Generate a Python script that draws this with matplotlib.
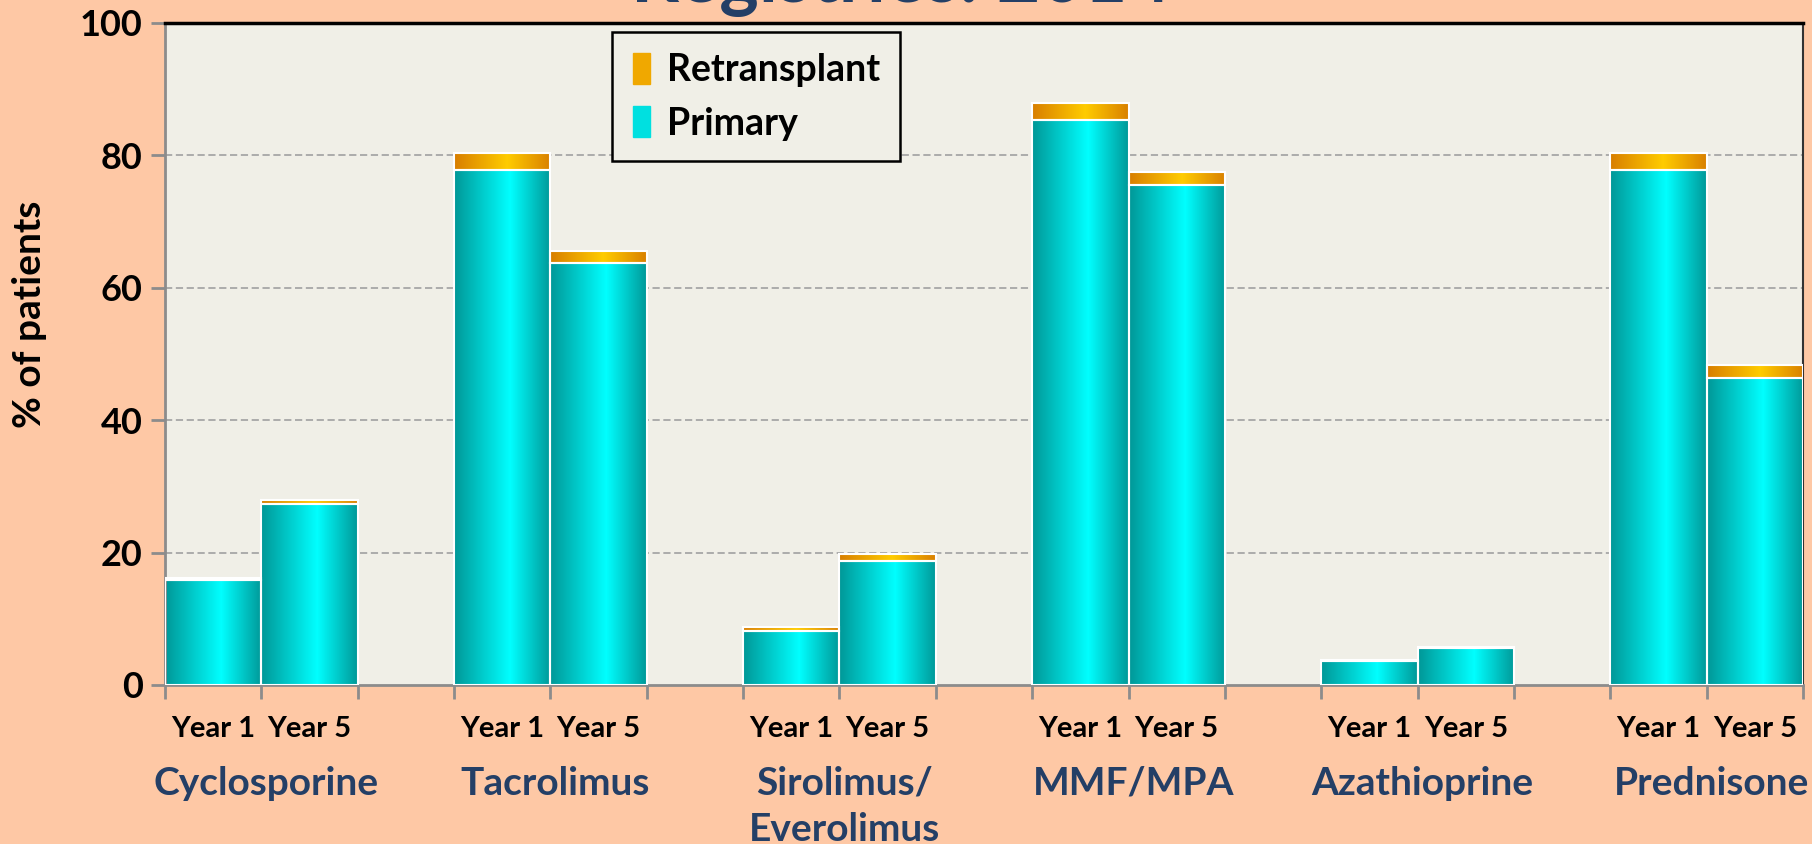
import numpy as np
import matplotlib
matplotlib.use('Agg')
from matplotlib import pyplot as plt
from matplotlib.colors import LinearSegmentedColormap
from matplotlib.patches import Patch

drugs = ['Cyclosporine', 'Tacrolimus', 'Sirolimus/\nEverolimus', 'MMF/MPA', 'Azathioprine', 'Prednisone']
years = ['Year 1', 'Year 5']

# % of patients, per drug: (year 1, year 5)
primary = [[15.8, 27.4], [77.8, 63.7], [8.2, 18.8], [85.3, 75.6], [3.7, 5.6], [77.8, 46.4]]
retransplant = [[0.4, 0.6], [2.5, 1.9], [0.5, 1.0], [2.6, 1.9], [0.1, 0.1], [2.5, 1.9]]

yticks = [0, 20, 40, 60, 80, 100]

peach = '#FEC8A5'
panel = '#F0EFE7'
navy = '#243F66'

plt.rcParams['font.family'] = ['Lato', 'DejaVu Sans']

fig = plt.figure(figsize=(18.12, 8.44), dpi=100, facecolor=peach)
ax = fig.add_axes([165/1812, 1-685/844, (1803-165)/1812, (685-23)/844])
ax.set_facecolor(panel)

# each drug takes 3 slots: year 1, year 5, blank (last one has no blank)
pos = []
for i in range(len(drugs)):
    pos += [3*i + 0.5, 3*i + 1.5]
prim = np.array(primary).ravel()
retr = np.array(retransplant).ravel()

b1 = ax.bar(pos, prim, width=1.0, facecolor='none', edgecolor='white', lw=1.5, zorder=3)
b2 = ax.bar(pos, retr, bottom=prim, width=1.0, facecolor='none', edgecolor='white', lw=1.5, zorder=3)

cyan = LinearSegmentedColormap.from_list('cy', [(0, '#009797'), (0.58, '#00FFFF'), (1, '#009898')])
orng = LinearSegmentedColormap.from_list('or', [(0, '#D87E00'), (0.55, '#FFCC00'), (1, '#D98000')])
grad = np.linspace(0, 1, 256).reshape(1, -1)

for bars, cm in ((b1, cyan), (b2, orng)):
    for r in bars:
        x0, y0, w, h = r.get_x(), r.get_y(), r.get_width(), r.get_height()
        ax.imshow(grad, cmap=cm, extent=[x0, x0 + w, y0, y0 + h], aspect='auto', zorder=2,
                  interpolation='bilinear')

ax.set_xlim(0, 17)
ax.set_ylim(0, 100)

ax.set_yticks(yticks)
ax.set_yticklabels([str(t) for t in yticks], fontsize=26, fontweight='bold')
ax.tick_params(axis='y', length=10, width=2, color='#8C8C8C', pad=6)

ax.set_xticks(np.arange(0, 18))
ax.set_xticklabels([])
ax.tick_params(axis='x', length=10, width=2, color='#8C8C8C')

for i, d in enumerate(drugs):
    for j, y in enumerate(years):
        ax.text(3*i + j + 0.5, -0.066, y, transform=ax.get_xaxis_transform(),
                ha='center', va='center', fontsize=21, fontweight='bold')
    ax.text(3*i + 1.05, -0.122, d, transform=ax.get_xaxis_transform(),
            ha='center', va='top', fontsize=28, fontweight='bold', color=navy,
            linespacing=1.38)

for y in yticks[1:-1]:
    ax.axhline(y, color='#A6A6A6', lw=1.3, ls=(0, (4, 2)), zorder=1)

ax.spines['top'].set_color('black')
ax.spines['top'].set_linewidth(2.5)
ax.spines['right'].set_color('#333333')
ax.spines['right'].set_linewidth(1.5)
for s in ('left', 'bottom'):
    ax.spines[s].set_color('#8C8C8C')
    ax.spines[s].set_linewidth(2)

ax.set_ylabel('% of patients', fontsize=28, fontweight='bold')
ax.yaxis.set_label_coords(-0.072, 0.56)

handles = [Patch(facecolor='#F0A800', edgecolor='#F0A800'),
           Patch(facecolor='#00E0E0', edgecolor='#00E0E0')]
leg = ax.legend(handles, ['Retransplant', 'Primary'], loc='upper left',
                bbox_to_anchor=(0.273, 0.986), borderaxespad=0, frameon=True,
                fancybox=False, edgecolor='black', facecolor=panel, framealpha=1,
                prop={'weight': 'bold', 'size': 27}, handlelength=0.45, handleheight=0.9,
                handletextpad=0.45, labelspacing=0.5, borderpad=0.55)
leg.get_frame().set_linewidth(1.8)

fig.text(0.497, 1 - 2/844, 'Registries: 2014', ha='center', va='baseline',
         fontsize=54, fontweight='bold', color=navy)

fig.savefig('out.png', dpi=100, facecolor=peach)
